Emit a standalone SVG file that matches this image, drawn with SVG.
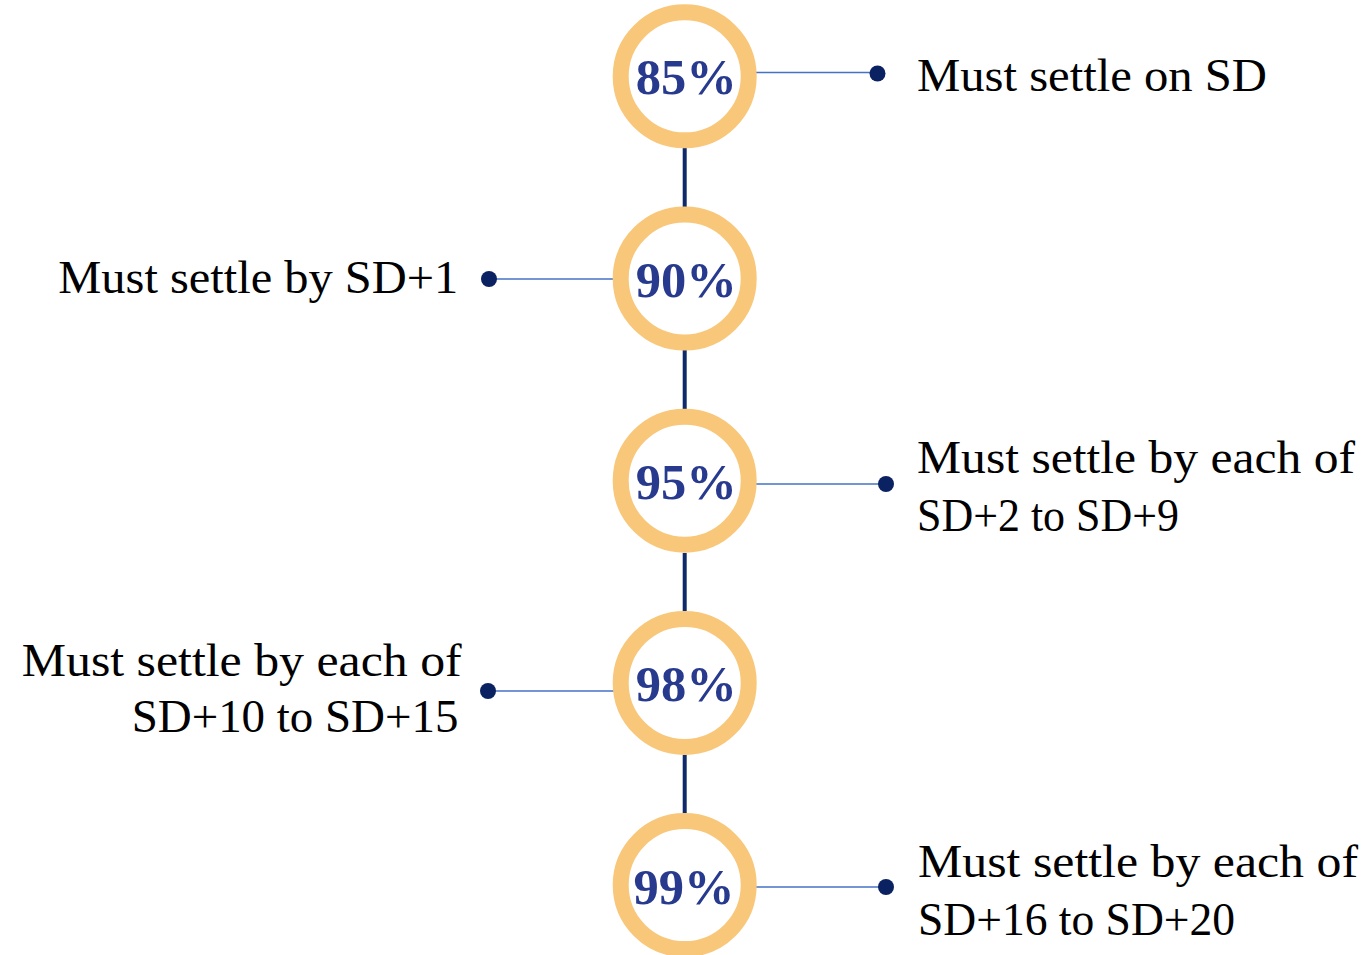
<svg xmlns="http://www.w3.org/2000/svg" width="1369" height="955" viewBox="0 0 1369 955">
<style>
.ring{fill:#ffffff;stroke:#F9C77A;stroke-width:16}
.pct{font-family:"Liberation Serif","DejaVu Serif",serif;font-weight:bold;font-size:51px;fill:#283A8E;text-anchor:middle}
.lbl{font-family:"Liberation Serif","DejaVu Serif",serif;font-size:46px;fill:#000000}
.vline{stroke:#0E2A6B;stroke-width:4;fill:none}
.hline{stroke:#4472C4;stroke-width:1.6;fill:none}
.dot{fill:#0B2262}
</style>
<rect width="1369" height="955" fill="#ffffff"/>
<g id="connectors">
  <line class="vline" x1="684.7" y1="148" x2="684.7" y2="207"/>
  <line class="vline" x1="684.7" y1="350" x2="684.7" y2="409"/>
  <line class="vline" x1="684.7" y1="553" x2="684.7" y2="611"/>
  <line class="vline" x1="684.7" y1="755" x2="684.7" y2="813"/>
  <line class="hline" x1="755" y1="72.5" x2="877" y2="72.5"/>
  <circle class="dot" cx="877.5" cy="73.5" r="8"/>
  <line class="hline" x1="489" y1="279" x2="614" y2="279"/>
  <circle class="dot" cx="489" cy="279" r="8"/>
  <line class="hline" x1="754" y1="484" x2="886" y2="484"/>
  <circle class="dot" cx="886" cy="484" r="8"/>
  <line class="hline" x1="488" y1="691" x2="614" y2="691"/>
  <circle class="dot" cx="488" cy="691" r="8"/>
  <line class="hline" x1="754" y1="887" x2="886" y2="887"/>
  <circle class="dot" cx="886" cy="887" r="8"/>
</g>
<g id="node-85">
  <circle class="ring" cx="684.7" cy="76.3" r="64"/>
  <text class="pct" x="686.3" y="94" textLength="101" lengthAdjust="spacingAndGlyphs">85%</text>
  <text class="lbl" x="917" y="91" textLength="350" lengthAdjust="spacingAndGlyphs">Must settle on SD</text>
</g>
<g id="node-90">
  <circle class="ring" cx="684.7" cy="278.5" r="64"/>
  <text class="pct" x="686.3" y="296.5" textLength="101" lengthAdjust="spacingAndGlyphs">90%</text>
  <text class="lbl" x="58.3" y="293" textLength="400" lengthAdjust="spacingAndGlyphs">Must settle by SD+1</text>
</g>
<g id="node-95">
  <circle class="ring" cx="684.7" cy="480.7" r="64"/>
  <text class="pct" x="686.3" y="499" textLength="101" lengthAdjust="spacingAndGlyphs">95%</text>
  <text class="lbl" x="917" y="473" textLength="438" lengthAdjust="spacingAndGlyphs">Must settle by each of</text>
  <text class="lbl" x="917" y="530.5" textLength="262" lengthAdjust="spacingAndGlyphs">SD+2 to SD+9</text>
</g>
<g id="node-98">
  <circle class="ring" cx="684.7" cy="682.9" r="64"/>
  <text class="pct" x="686.3" y="701" textLength="101" lengthAdjust="spacingAndGlyphs">98%</text>
  <text class="lbl" x="21.7" y="676" textLength="440" lengthAdjust="spacingAndGlyphs">Must settle by each of</text>
  <text class="lbl" x="131.7" y="732" textLength="326.7" lengthAdjust="spacingAndGlyphs">SD+10 to SD+15</text>
</g>
<g id="node-99">
  <circle class="ring" cx="684.7" cy="885.1" r="64"/>
  <text class="pct" x="684" y="904" textLength="101" lengthAdjust="spacingAndGlyphs">99%</text>
  <text class="lbl" x="918" y="877" textLength="440" lengthAdjust="spacingAndGlyphs">Must settle by each of</text>
  <text class="lbl" x="918" y="934.5" textLength="317" lengthAdjust="spacingAndGlyphs">SD+16 to SD+20</text>
</g>
</svg>
